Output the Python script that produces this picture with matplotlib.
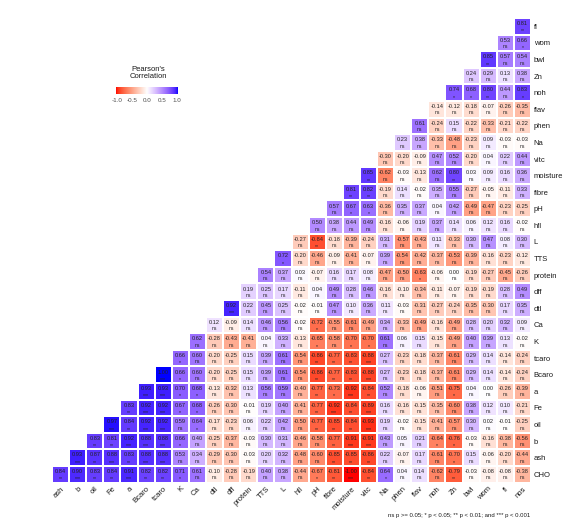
import matplotlib
matplotlib.use("Agg")
import matplotlib.pyplot as plt
import numpy as np
from matplotlib.colors import ListedColormap

plt.rcParams["font.family"] = ["Liberation Sans", "DejaVu Sans"]

# variable order (rows bottom->top use [:-1], columns left->right use [1:])
variables = ["CHO", "ash", "b", "oil", "Fe", "a", "Bcaro", "tcaro", "K", "Ca",
             "dtl", "dff", "protein", "TTS", "L", "hfl", "pH", "fibre",
             "moisture", "vitc", "Na", "phen", "flav", "noh", "Zn", "bwl",
             "wom", "fl", "nos"]

# correlations of each row variable with the variables after it (to nos)
corr_CHO = [0.84, 0.90, 0.83, 0.84, 0.91, 0.82, 0.82, 0.71, 0.61, -0.10, -0.28, -0.19, 0.40, 0.38,
            -0.44, -0.67, -0.81, -1.00, -0.84, 0.64, 0.04, 0.14, -0.62, -0.79, -0.03, -0.08, -0.08, -0.38]
corr_ash = [0.93, 0.87, 0.88, 0.83, 0.88, 0.88, 0.53, 0.34, -0.29, -0.30, -0.03, 0.20, 0.32,
            -0.48, -0.60, -0.85, -0.85, -0.86, 0.22, -0.07, 0.17, -0.61, -0.70, 0.15, -0.06, -0.20, -0.44]
corr_b = [0.83, 0.81, 0.92, 0.88, 0.88, 0.66, 0.40, -0.25, -0.37, -0.03, 0.30, 0.31,
          -0.46, -0.58, -0.77, -0.91, -0.91, 0.43, 0.05, 0.21, -0.64, -0.76, -0.03, -0.16, -0.38, -0.56]
corr_oil = [0.97, 0.84, 0.92, 0.92, 0.59, 0.64, -0.17, -0.23, 0.06, 0.22, 0.42,
            -0.50, -0.77, -0.85, -0.84, -0.93, 0.19, -0.02, -0.15, -0.41, -0.57, 0.30, 0.02, -0.01, -0.25]
corr_Fe = [0.83, 0.92, 0.92, 0.67, 0.68, -0.26, -0.30, -0.01, 0.19, 0.40,
           -0.41, -0.77, -0.92, -0.84, -0.89, 0.16, -0.16, -0.15, -0.35, -0.60, 0.38, 0.12, 0.10, -0.21]
corr_a = [0.93, 0.93, 0.70, 0.68, -0.13, -0.32, 0.13, 0.56, 0.59,
          -0.40, -0.77, -0.73, -0.92, -0.84, 0.52, -0.18, -0.06, -0.51, -0.75, 0.04, 0.00, -0.26, -0.39]
corr_Bcaro = [1.00, 0.66, 0.60, -0.20, -0.25, 0.15, 0.39, 0.61,
              -0.54, -0.86, -0.77, -0.83, -0.88, 0.27, -0.23, -0.18, -0.37, -0.61, 0.29, 0.14, -0.14, -0.24]
corr_tcaro = [0.66, 0.60, -0.20, -0.25, 0.15, 0.39, 0.61,
              -0.54, -0.86, -0.77, -0.83, -0.88, 0.27, -0.23, -0.18, -0.37, -0.61, 0.29, 0.14, -0.14, -0.24]
corr_K = [0.62, -0.28, -0.43, -0.41, 0.04, 0.33, -0.13, -0.65, -0.58, -0.70, -0.70,
          0.61, 0.06, 0.15, -0.15, -0.49, 0.40, 0.39, 0.13, -0.02]
corr_Ca = [0.12, -0.09, 0.14, 0.46, 0.56, -0.02, -0.72, -0.55, -0.61, -0.49,
           0.34, -0.33, -0.49, -0.16, -0.49, 0.28, 0.20, 0.32, 0.09]
corr_dtl = [0.92, 0.22, 0.45, 0.25, -0.02, -0.01, 0.47, 0.10, 0.36,
            0.11, -0.03, -0.31, -0.27, -0.24, -0.35, -0.30, 0.17, 0.35]
corr_dff = [0.19, 0.25, 0.17, -0.11, 0.04, 0.49, 0.28, 0.46,
            -0.16, -0.10, -0.34, -0.11, -0.07, -0.19, -0.19, 0.28, 0.49]
corr_protein = [0.54, 0.37, 0.03, -0.07, 0.16, 0.17, 0.08,
                -0.47, -0.50, -0.63, -0.06, 0.00, -0.19, -0.27, -0.45, -0.26]
corr_TTS = [0.72, -0.20, -0.46, -0.09, -0.41, -0.07,
            0.39, -0.54, -0.42, -0.37, -0.53, -0.39, -0.16, -0.23, -0.12]
corr_L = [-0.27, -0.84, -0.18, -0.39, -0.24, 0.31, -0.57, -0.43, 0.11, -0.33, 0.30, 0.47, 0.08, 0.30]
corr_hfl = [0.50, 0.38, 0.44, 0.49, -0.16, -0.06, 0.19, 0.37, 0.14, 0.06, 0.12, 0.16, -0.02]
corr_pH = [0.57, 0.67, 0.63, -0.36, 0.35, 0.37, 0.04, 0.42, -0.49, -0.47, -0.23, -0.25]
corr_fibre = [0.81, 0.82, -0.19, 0.14, -0.02, 0.35, 0.55, -0.27, -0.05, -0.11, 0.33]
corr_moisture = [0.85, -0.62, -0.03, -0.13, 0.62, 0.80, 0.03, 0.09, 0.16, 0.36]
corr_vitc = [-0.30, -0.20, -0.09, 0.47, 0.52, -0.20, 0.04, 0.22, 0.44]
corr_Na = [0.23, 0.38, -0.33, -0.48, -0.23, 0.09, -0.03, -0.03]
corr_phen = [0.61, -0.24, 0.15, -0.22, -0.33, -0.21, -0.22]
corr_flav = [-0.14, -0.12, -0.18, -0.07, -0.26, -0.35]
corr_noh = [0.74, 0.68, 0.80, 0.44, 0.83]
corr_Zn = [0.24, 0.29, 0.13, 0.38]
corr_bwl = [0.85, 0.57, 0.54]
corr_wom = [0.53, 0.66]
corr_fl = [0.81]

# number of stars per cell (0 = ns)
sig_CHO = "2 3 2 2 3 2 2 1 0 0 0 0 0 0 0 1 2 3 2 1 0 0 0 2 0 0 0 0"
sig_ash = "3 2 3 2 3 3 0 0 0 0 0 0 0 0 0 2 2 2 0 0 0 0 1 0 0 0 0"
sig_b = "2 2 3 3 3 1 0 0 0 0 0 0 0 0 2 3 3 0 0 0 1 1 0 0 0 0"
sig_oil = "3 2 3 3 0 1 0 0 0 0 0 0 2 2 2 3 0 0 0 0 0 0 0 0 0"
sig_Fe = "2 3 3 1 1 0 0 0 0 0 0 2 3 2 3 0 0 0 0 0 0 0 0 0"
sig_a = "3 3 1 1 0 0 0 0 0 0 2 1 3 2 0 0 0 0 1 0 0 0 0"
sig_Bcaro = "3 1 0 0 0 0 0 0 0 2 2 2 3 0 0 0 0 0 0 0 0 0"
sig_tcaro = "1 0 0 0 0 0 0 0 2 2 2 3 0 0 0 0 0 0 0 0 0"
sig_K = "0 0 0 0 0 0 0 1 0 1 1 0 0 0 0 0 0 0 0 0"
sig_Ca = "0 0 0 0 0 0 1 0 0 0 0 0 0 0 0 0 0 0 0"
sig_dtl = "3 0 0 0 0 0 0 0 0 0 0 0 0 0 0 0 0 0"
sig_dff = "0 0 0 0 0 0 0 0 0 0 0 0 0 0 0 0 0"
sig_protein = "0 0 0 0 0 0 0 0 0 1 0 0 0 0 0 0"
sig_TTS = "1 0 0 0 0 0 0 0 0 0 0 0 0 0 0"
sig_L = "0 2 0 0 0 0 0 0 0 0 0 0 0 0"
sig_hfl = "0 0 0 0 0 0 0 0 0 0 0 0 0"
sig_pH = "0 1 1 0 0 0 0 0 0 0 0 0"
sig_fibre = "2 2 0 0 0 0 0 0 0 0 0"
sig_moisture = "2 0 0 0 0 2 0 0 0 0"
sig_vitc = "0 0 0 0 0 0 0 0 0"
sig_Na = "0 0 0 0 0 0 0 0"
sig_phen = "0 0 0 0 0 0 0"
sig_flav = "0 0 0 0 0 0"
sig_noh = "1 1 2 0 1"
sig_Zn = "0 0 0 0"
sig_bwl = "2 0 0"
sig_wom = "0 1"
sig_fl = "2"

corr_rows = [corr_CHO, corr_ash, corr_b, corr_oil, corr_Fe, corr_a, corr_Bcaro, corr_tcaro,
             corr_K, corr_Ca, corr_dtl, corr_dff, corr_protein, corr_TTS, corr_L, corr_hfl,
             corr_pH, corr_fibre, corr_moisture, corr_vitc, corr_Na, corr_phen, corr_flav,
             corr_noh, corr_Zn, corr_bwl, corr_wom, corr_fl]
sig_rows = [sig_CHO, sig_ash, sig_b, sig_oil, sig_Fe, sig_a, sig_Bcaro, sig_tcaro,
            sig_K, sig_Ca, sig_dtl, sig_dff, sig_protein, sig_TTS, sig_L, sig_hfl,
            sig_pH, sig_fibre, sig_moisture, sig_vitc, sig_Na, sig_phen, sig_flav,
            sig_noh, sig_Zn, sig_bwl, sig_wom, sig_fl]


# red - white - blue gradient interpolated in CIELAB (like ggplot2)
M_RGB2XYZ = np.array([[0.4124, 0.3576, 0.1805],
                      [0.2126, 0.7152, 0.0722],
                      [0.0193, 0.1192, 0.9505]])
WHITE_PT = np.array([0.95047, 1.0, 1.08883])


def srgb_to_lab(c):
    c = np.asarray(c, float)
    lin = np.where(c <= 0.04045, c / 12.92, ((c + 0.055) / 1.055) ** 2.4)
    xyz = (M_RGB2XYZ @ lin) / WHITE_PT
    f = np.where(xyz > 0.008856, np.cbrt(xyz), 7.787 * xyz + 16 / 116)
    return np.array([116 * f[1] - 16, 500 * (f[0] - f[1]), 200 * (f[1] - f[2])])


def lab_to_srgb(lab):
    L, a, b = lab
    fy = (L + 16) / 116
    f = np.array([fy + a / 500, fy, fy - b / 200])
    xyz = np.where(f ** 3 > 0.008856, f ** 3, (f - 16 / 116) / 7.787) * WHITE_PT
    lin = np.clip(np.linalg.inv(M_RGB2XYZ) @ xyz, 0, 1)
    c = np.where(lin <= 0.0031308, 12.92 * lin, 1.055 * lin ** (1 / 2.4) - 0.055)
    return np.clip(c, 0, 1)


lab_red = srgb_to_lab([1, 0, 0])
lab_white = srgb_to_lab([1, 1, 1])
lab_blue = srgb_to_lab([0, 0, 1])
colors = []
for t in np.linspace(-1, 1, 256):
    end = lab_red if t < 0 else lab_blue
    colors.append(lab_to_srgb(lab_white + abs(t) * (end - lab_white)))
cmap = ListedColormap(colors)

n = len(variables) - 1
Z = np.full((n, n), np.nan)
for i, row in enumerate(corr_rows):
    for k, v in enumerate(row):
        Z[i, i + k] = v

W, H = 570, 527
fig = plt.figure(figsize=(W / 100, H / 100), dpi=100)
ax = fig.add_axes([52 / W, 1 - 482.5 / H, 479 / W, 464.5 / H])
ax.pcolormesh(np.arange(n + 1), np.arange(n + 1), np.ma.masked_invalid(Z), cmap=cmap,
              vmin=-1, vmax=1, edgecolors="white", linewidth=0.3)

for i, row in enumerate(corr_rows):
    stars = sig_rows[i].split()
    for k, v in enumerate(row):
        c = i + k
        ax.text(c + 0.5, i + 0.66, f"{v:.2f}", ha="center", va="center",
                fontsize=4.1, color="#222222")
        s = "ns" if stars[k] == "0" else "*" * int(stars[k])
        ax.text(c + 0.5, i + (0.28 if s == "ns" else 0.22), s, ha="center", va="center",
                fontsize=3.7, color="#222222")

ax.set_xlim(0, n)
ax.set_ylim(0, n)
for sp in ax.spines.values():
    sp.set_visible(False)
ax.set_xticks(np.arange(n) + 0.5)
ax.set_xticklabels(variables[1:], rotation=45, ha="right", va="top",
                   rotation_mode="anchor", fontsize=5.5, color="#1a1a1a")
ax.yaxis.tick_right()
ax.set_yticks(np.arange(n) + 0.5)
ax.set_yticklabels(variables[:-1], fontsize=5.5, color="#1a1a1a")
ax.tick_params(length=0, pad=2)

# legend
cax = fig.add_axes([116 / W, 1 - 94 / H, 62 / W, 7 / H])
cax.imshow(np.linspace(-1, 1, 256)[None, :], cmap=cmap, aspect="auto",
           extent=[-1.05, 1.05, 0, 1], vmin=-1, vmax=1)
cax.set_xlim(-1.05, 1.05)
cax.set_yticks([])
cax.set_xticks([-1, -0.5, 0, 0.5, 1])
cax.set_xticklabels(["-1.0", "-0.5", "0.0", "0.5", "1.0"], fontsize=4.5, color="#4d4d4d")
cax.tick_params(length=0, pad=3)
for sp in cax.spines.values():
    sp.set_visible(False)
fig.text(148 / W, 1 - 73 / H, "Pearson's\nCorrelation", ha="center", va="center",
         fontsize=5.5, color="#1a1a1a", linespacing=1.1)

fig.text(530 / W, 1 - 515 / H, "ns p >= 0.05; * p < 0.05; ** p < 0.01; and *** p < 0.001",
         ha="right", va="center", fontsize=4.3, color="#1a1a1a")

fig.savefig("out.png", dpi=100)
